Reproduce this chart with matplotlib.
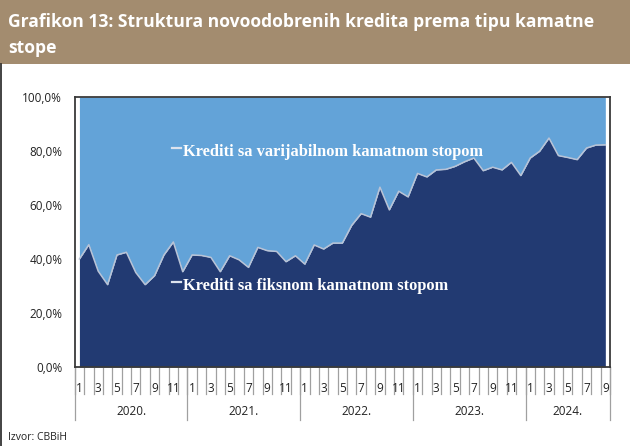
import matplotlib.pyplot as plt
from matplotlib.patches import Rectangle
from matplotlib.lines import Line2D
from matplotlib.ticker import FuncFormatter
import matplotlib.transforms as mtransforms

# Monthly share of newly approved loans with a fixed rate (%), 01/2020 - 09/2024
years = ['2020.', '2021.', '2022.', '2023.', '2024.']
months_per_year = [12, 12, 12, 12, 9]
fixed = [40.0, 45.3, 35.5, 30.5, 41.5, 42.5, 35.0, 30.5, 33.8, 41.5, 46.3, 35.3,
         41.5, 41.3, 40.6, 35.3, 41.2, 39.7, 36.9, 44.3, 43.1, 42.8, 39.0, 41.2,
         38.1, 45.2, 43.7, 45.9, 45.9, 52.5, 56.8, 55.5, 66.6, 58.2, 65.1, 63.0,
         71.7, 70.4, 73.0, 73.2, 74.3, 76.0, 77.4, 72.7, 74.0, 73.0, 75.8, 70.9,
         77.4, 79.9, 84.8, 78.3, 77.6, 76.8, 81.1, 82.2, 82.3]
label_variable = 'Krediti sa varijabilnom kamatnom stopom'
label_fixed = 'Krediti sa fiksnom kamatnom stopom'
title_lines = ['Grafikon 13: Struktura novoodobrenih kredita prema tipu kamatne', 'stope']
source = 'Izvor: CBBiH'

dark = '#223A72'
light = '#63A3D8'
band = '#A38C6F'

month_labels = []
for n in months_per_year:
    month_labels += [str(m) if m % 2 == 1 else '' for m in range(1, n + 1)]
x = list(range(len(fixed)))

fig = plt.figure(figsize=(6.3, 4.46), dpi=100)

# title band
fig.patches.append(Rectangle((0, 0.857), 1, 0.143, transform=fig.transFigure,
                             facecolor=band, edgecolor='none', zorder=0))
for line, yy in zip(title_lines, [0.951, 0.893]):
    fig.text(0.013, yy, line, color='white', fontsize=12.6, family='Open Sans',
             weight='bold', va='center', ha='left')
fig.lines.append(Line2D([0.002, 0.002], [0, 0.857], transform=fig.transFigure,
                        color='#222222', lw=1.2))

ax = fig.add_axes([0.1186, 0.1771, 0.8497, 0.6054])
ax.fill_between(x, 0, fixed, color=dark, lw=0)
ax.fill_between(x, fixed, 100, color=light, lw=0)
ax.plot(x, fixed, color='#B9C3D6', lw=1.1)

ax.set_xlim(-0.5, len(x) - 0.5)
ax.set_ylim(0, 100)
ax.set_yticks(range(0, 101, 20))
ax.yaxis.set_major_formatter(FuncFormatter(lambda v, p: f'{v:.1f}%'.replace('.', ',')))
ax.tick_params(axis='y', length=0, pad=9, labelsize=8.5, labelcolor='#222222')
for lab in ax.get_yticklabels():
    lab.set_family('Open Sans')
ax.set_xticks([])
for s in ax.spines.values():
    s.set_color('#3a3a3a')
    s.set_linewidth(1.3)

# multi-level category axis
trans = mtransforms.blended_transform_factory(ax.transData, ax.transAxes)
for k in range(len(x) + 1):
    ax.plot([k - 0.5, k - 0.5], [0, -0.1], transform=trans, color='#a0a0a0',
            lw=0.9, clip_on=False)
for i, lab in enumerate(month_labels):
    ax.text(i, -0.08, lab, transform=trans, ha='center', va='center',
            fontsize=8.5, family='Open Sans', color='#222222')
start = 0
for yr, n in zip(years, months_per_year):
    ax.plot([start - 0.5, start - 0.5], [0, -0.196], transform=trans,
            color='#a0a0a0', lw=0.9, clip_on=False)
    ax.text(start + (n - 1) / 2, -0.163, yr, transform=trans, ha='center',
            va='center', fontsize=8.5, family='Open Sans', color='#222222')
    start += n
ax.plot([start - 0.5, start - 0.5], [0, -0.196], transform=trans,
        color='#a0a0a0', lw=0.9, clip_on=False)

# series labels
for lab, yv in [(label_variable, 79.6), (label_fixed, 30.0)]:
    ax.text(11.05, yv, lab, color='white', fontsize=11.8, family='Liberation Serif',
            weight='bold', va='center', ha='left')
    ax.plot([9.9, 10.8], [yv + 1.6, yv + 1.6], color='#dde3ee', lw=1.6)

fig.text(0.013, 0.02, source, fontsize=7.5, family='Open Sans', color='#222222',
         ha='left', va='center')

fig.savefig('out.png', dpi=100)
